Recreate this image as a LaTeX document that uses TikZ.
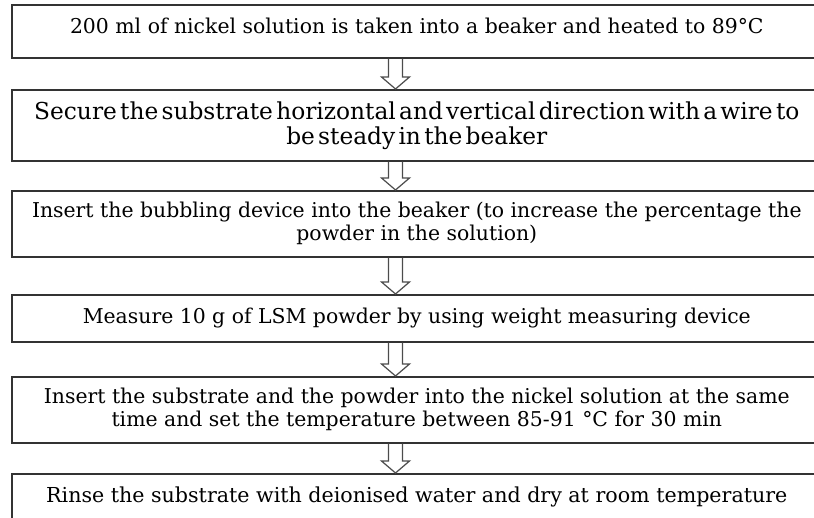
\documentclass[tikz,border=0pt]{standalone}
\usepackage{fontspec}
\setmainfont{DejaVu Serif}
\usetikzlibrary{calc}

% hollow arrow from the bottom of one step to the top of the next
\newcommand{\stepflow}[3][0]{%
  \draw[flowarrow, xshift=#1] ($(#2.south west)+(377.5,0)$) -- ($(#3.north west)+(377.5,-12)$)
    -- ++(-7,0) -- ($(#3.north west)+(384.5,0)$) -- ++(14,-12) -- ++(-7,0)
    -- ($(#2.south west)+(391.5,0)$);}
\newcommand{\tightwords}{\spaceskip=0.14em\relax}

\begin{document}
\begin{tikzpicture}[x=1pt, y=-1pt,
  stepbox/.style={draw=black!80, line width=1.6pt, anchor=north west, align=center,
    minimum width=810pt, inner sep=0pt, font=\fontsize{20.4}{23}\selectfont},
  bigstep/.style={stepbox, font=\fontsize{23.3}{25}\selectfont\tightwords},
  flowarrow/.style={draw=black!70, line width=1.2pt, line join=miter}]
\useasboundingbox (0,0) rectangle (814,518);
\clip (0,0) rectangle (814,518);

\node[stepbox, minimum height=53pt, text depth=12pt] (s1) at (11,4)
  {200 ml of nickel solution is taken into a beaker and heated to 89\textdegree C};
\node[bigstep, minimum height=71pt] (s2) at (11,89)
  {Secure the substrate horizontal and vertical direction with a wire to\\be steady in the beaker};
\node[stepbox, minimum height=66pt] (s3) at (11,190)
  {Insert the bubbling device into the beaker (to increase the percentage the\\powder in the solution)};
\node[stepbox, minimum height=47pt] (s4) at (11,294)
  {Measure 10 g of LSM powder by using weight measuring device};
\node[stepbox, minimum height=66pt] (s5) at (11,376)
  {Insert the substrate and the powder into the nickel solution at the same\\time and set the temperature between 85-91 \textdegree C for 30 min};
\node[stepbox, minimum height=53pt, text depth=10.5pt,
  font=\fontsize{20.6}{24}\selectfont] (s6) at (11,473)
  {Rinse the substrate with deionised water and dry at room temperature};

\stepflow{s1}{s2}
\stepflow{s2}{s3}
\stepflow{s3}{s4}
\stepflow[-3]{s4}{s5}
\stepflow[1.5]{s5}{s6}
\end{tikzpicture}
\end{document}
